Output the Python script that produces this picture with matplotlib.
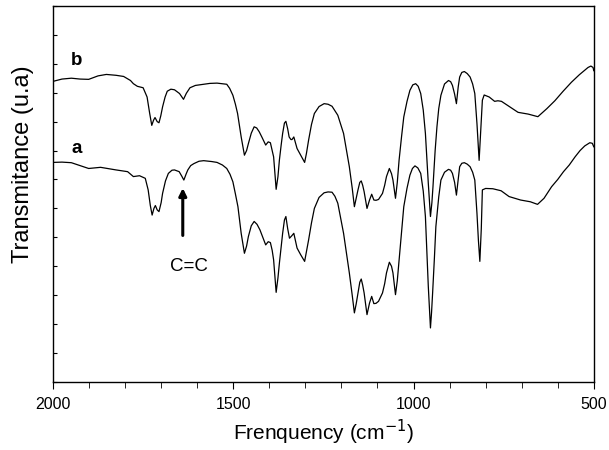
import matplotlib.pyplot as plt
from matplotlib.ticker import MultipleLocator

plt.rcParams['font.family'] = ['Liberation Sans', 'DejaVu Sans']

# Spectrum b (upper), wavenumber (cm-1) and transmittance (arb. units)
wn_b = [2000, 1975, 1949, 1925, 1901, 1875, 1852, 1825, 1804, 1785, 1777, 1766,
        1750, 1739, 1732, 1726, 1721, 1717, 1711, 1706, 1701, 1696, 1689, 1683,
        1673, 1663, 1649, 1638, 1630, 1620, 1605, 1588, 1565, 1545, 1518, 1510,
        1501, 1494, 1488, 1478, 1469, 1463, 1458, 1450, 1442, 1435, 1428, 1420,
        1410, 1403, 1397, 1388, 1381, 1376, 1372, 1367, 1363, 1358, 1354, 1349,
        1345, 1340, 1337, 1332, 1327, 1323, 1313, 1302, 1297, 1291, 1283, 1275,
        1262, 1248, 1237, 1226, 1210, 1194, 1178, 1170, 1164, 1159, 1154, 1149,
        1145, 1141, 1137, 1129, 1122, 1116, 1110, 1104, 1097, 1086, 1080, 1075,
        1067, 1061, 1057, 1050, 1045, 1040, 1033, 1027, 1018, 1010, 1002, 994,
        987, 980, 973, 967, 963, 959, 953, 949, 946, 940, 935, 930, 924, 914,
        903, 897, 892, 886, 881, 876, 872, 866, 859, 851, 843, 836, 830, 824,
        818, 813, 809, 804, 790, 775, 766, 756, 738, 710, 682, 655, 630, 608,
        585, 562, 540, 516, 508, 502, 500]
t_b = [10.39, 10.47, 10.50, 10.47, 10.46, 10.58, 10.63, 10.60, 10.56, 10.42,
       10.31, 10.22, 10.17, 9.85, 9.30, 8.87, 9.05, 9.14, 9.00, 8.96, 9.20, 9.51,
       9.85, 10.05, 10.12, 10.10, 9.97, 9.77, 9.98, 10.17, 10.25, 10.28, 10.32,
       10.33, 10.29, 10.15, 9.91, 9.60, 9.28, 8.47, 7.84, 8.00, 8.24, 8.60, 8.82,
       8.78, 8.65, 8.45, 8.19, 8.30, 8.27, 7.78, 6.66, 7.10, 7.67, 8.20, 8.59,
       8.95, 9.01, 8.75, 8.47, 8.38, 8.38, 8.47, 8.25, 8.07, 7.84, 7.59, 7.90,
       8.36, 8.90, 9.28, 9.52, 9.62, 9.60, 9.53, 9.22, 8.59, 7.44, 6.70, 6.06,
       6.35, 6.64, 6.90, 6.95, 6.80, 6.58, 6.00, 6.29, 6.49, 6.29, 6.28, 6.31,
       6.52, 6.80, 7.10, 7.38, 7.20, 6.98, 6.35, 6.90, 7.67, 8.50, 9.16, 9.70,
       10.08, 10.27, 10.31, 10.22, 9.97, 9.40, 8.59, 7.70, 6.87, 5.72, 6.20, 6.75,
       8.00, 8.82, 9.45, 9.91, 10.30, 10.42, 10.38, 10.25, 9.95, 9.62, 10.20,
       10.54, 10.70, 10.73, 10.66, 10.54, 10.30, 9.97, 8.93, 7.66, 8.80, 9.74,
       9.92, 9.85, 9.70, 9.72, 9.70, 9.55, 9.32, 9.26, 9.17, 9.45, 9.72, 10.05,
       10.36, 10.62, 10.87, 10.92, 10.87, 10.76]

# Spectrum a (lower)
wn_a = [2000, 1975, 1949, 1925, 1901, 1868, 1825, 1793, 1777, 1760, 1744, 1736,
        1730, 1725, 1720, 1716, 1711, 1706, 1700, 1696, 1688, 1680, 1670, 1663,
        1650, 1643, 1637, 1631, 1626, 1618, 1609, 1595, 1582, 1560, 1545, 1530,
        1518, 1509, 1501, 1494, 1487, 1478, 1469, 1463, 1458, 1450, 1442, 1434,
        1426, 1418, 1410, 1403, 1397, 1392, 1388, 1381, 1376, 1372, 1367, 1363,
        1358, 1354, 1349, 1344, 1338, 1332, 1327, 1323, 1313, 1302, 1297, 1291,
        1283, 1275, 1262, 1248, 1237, 1226, 1218, 1210, 1194, 1178, 1170, 1164,
        1159, 1154, 1149, 1145, 1141, 1137, 1129, 1122, 1116, 1110, 1104, 1097,
        1086, 1080, 1075, 1067, 1061, 1057, 1050, 1045, 1040, 1033, 1027, 1018,
        1010, 1003, 996, 988, 980, 973, 967, 963, 959, 953, 950, 947, 942, 938,
        930, 924, 914, 903, 897, 892, 886, 881, 876, 872, 866, 859, 851, 843, 836,
        830, 824, 820, 816, 812, 809, 800, 780, 757, 735, 703, 676, 656, 638, 617,
        600, 584, 568, 552, 538, 525, 511, 504, 500]
t_a = [7.59, 7.60, 7.58, 7.48, 7.38, 7.42, 7.33, 7.27, 7.10, 7.13, 7.04, 6.64,
       6.10, 5.77, 6.00, 6.10, 5.95, 5.89, 6.20, 6.52, 6.95, 7.21, 7.32, 7.33,
       7.27, 7.12, 6.98, 7.18, 7.33, 7.48, 7.55, 7.63, 7.65, 7.62, 7.59, 7.50,
       7.38, 7.18, 6.92, 6.50, 6.06, 5.14, 4.45, 4.70, 5.03, 5.40, 5.55, 5.45,
       5.26, 5.00, 4.74, 4.85, 4.82, 4.55, 4.22, 3.10, 3.60, 4.11, 4.70, 5.14,
       5.60, 5.72, 5.30, 4.97, 5.05, 5.14, 4.85, 4.63, 4.40, 4.17, 4.50, 4.91,
       5.50, 6.00, 6.38, 6.54, 6.57, 6.56, 6.42, 6.18, 5.14, 3.77, 3.00, 2.39,
       2.70, 3.08, 3.45, 3.56, 3.35, 3.08, 2.33, 2.73, 2.96, 2.71, 2.72, 2.79,
       3.08, 3.40, 3.77, 4.14, 4.00, 3.77, 3.02, 3.50, 4.22, 5.20, 6.06, 6.70,
       7.15, 7.38, 7.47, 7.40, 7.21, 6.60, 5.72, 4.50, 3.31, 1.87, 2.40, 3.08,
       4.30, 5.37, 6.40, 6.98, 7.25, 7.35, 7.32, 7.21, 6.90, 6.46, 7.00, 7.44,
       7.56, 7.58, 7.53, 7.44, 7.25, 6.98, 5.83, 4.90, 4.17, 5.30, 6.64, 6.69,
       6.68, 6.61, 6.41, 6.29, 6.23, 6.14, 6.35, 6.75, 7.00, 7.27, 7.50, 7.78,
       8.00, 8.16, 8.27, 8.25, 8.13]

fig = plt.figure(figsize=(6.09, 4.5), dpi=100)
ax = fig.add_axes([0.087, 0.151, 0.888, 0.836])

ax.plot(wn_b, t_b, color='black', lw=0.9)
ax.plot(wn_a, t_a, color='black', lw=0.9)

ax.set_xlim(2000, 500)
ax.set_ylim(0, 13)
ax.xaxis.set_major_locator(MultipleLocator(500))
ax.xaxis.set_minor_locator(MultipleLocator(100))
ax.yaxis.set_major_locator(MultipleLocator(1))
ax.tick_params(axis='x', which='major', direction='out', length=5, pad=6,
               labelsize=11.5)
ax.tick_params(axis='x', which='minor', direction='out', length=4)
ax.tick_params(axis='y', direction='in', length=3, labelleft=False)
for s in ax.spines.values():
    s.set_linewidth(1.0)

ax.text(1934, 10.97, 'b', fontsize=13.5, fontweight='bold', ha='center', va='baseline')
ax.text(1934, 7.90, 'a', fontsize=13.5, fontweight='bold', ha='center', va='baseline')

# C=C annotation
ax.annotate('', xy=(1640, 6.8), xytext=(1640, 4.97),
            arrowprops=dict(arrowstyle='-|>', color='black', lw=2.2,
                            mutation_scale=11))
ax.text(1624, 3.84, 'C=C', fontsize=13.5, ha='center', va='baseline')

ax.set_xlabel('Frenquency (cm$^{-1}$)', fontsize=15, labelpad=4)
ax.set_ylabel('Transmitance (u.a)', fontsize=17)
ax.yaxis.set_label_coords(-0.035, 0.58)

plt.savefig('out.png', dpi=100)
